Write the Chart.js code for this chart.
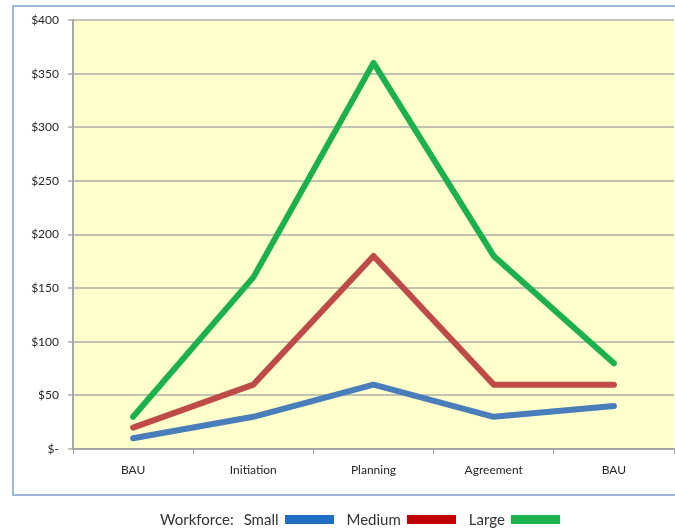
<!DOCTYPE html>
<html>
<head>
<meta charset="utf-8">
<script src="https://cdn.jsdelivr.net/npm/chart.js@4/dist/chart.umd.min.js"></script>
<style>
  html, body { margin: 0; padding: 0; background: #ffffff; }
  #wrap { position: relative; width: 675px; height: 529px; overflow: hidden; }
  #frame { position: absolute; left: 12px; top: 5px; width: 720px; height: 491px;
           border: 2px solid #9bb8dc; box-sizing: border-box; }
  #c { position: absolute; left: 0; top: 0; }
  #legend { position: absolute; left: 160px; top: 509px; height: 20px;
            display: flex; align-items: center;
            font-family: Lato, sans-serif; font-size: 15px; color: #333333;
            white-space: nowrap; }
  #legend .cap { margin-right: 10px; }
  #legend .sw { display: inline-block; width: 49px; height: 9px;
                margin: 0 13px 0 6px; }
</style>
</head>
<body>
<div id="wrap">
  <div id="frame"></div>
  <canvas id="c" width="675" height="529"></canvas>
  <div id="legend"></div>
</div>
<script>
// Project phases along the horizontal axis
const phases = ['BAU', 'Initiation', 'Planning', 'Agreement', 'BAU'];

// Cost per phase for each workforce size
const smallCost  = [10, 30, 60, 30, 40];
const mediumCost = [20, 60, 180, 60, 60];
const largeCost  = [30, 160, 360, 180, 80];

const seriesNames   = ['Small', 'Medium', 'Large'];
const seriesColors  = ['#4a7ebb', '#be4b48', '#1cb04e'];
const swatchColors  = ['#1f6fc0', '#c00000', '#1db34f'];

// Dollar tick labels from $0 to $400
const yTickValues = [0, 50, 100, 150, 200, 250, 300, 350, 400];
const yTickLabels = ['$-', '$50', '$100', '$150', '$200', '$250', '$300', '$350', '$400'];

const plotBackground = {
  id: 'plotBackground',
  beforeDraw(chart) {
    const { ctx, chartArea: a } = chart;
    ctx.save();
    ctx.fillStyle = '#ffffcc';
    ctx.fillRect(a.left, a.top, a.right - a.left, a.bottom - a.top);
    ctx.restore();
  }
};

const values = [smallCost, mediumCost, largeCost];
const datasets = values.map((v, i) => ({
  label: seriesNames[i],
  data: v,
  borderColor: seriesColors[i],
  backgroundColor: seriesColors[i],
  borderWidth: 6,
  pointRadius: 0,
  pointHoverRadius: 0,
  tension: 0,
  borderJoinStyle: 'round',
  borderCapStyle: 'round',
  clip: false
}));

new Chart(document.getElementById('c'), {
  type: 'line',
  data: { labels: phases, datasets },
  plugins: [plotBackground],
  options: {
    responsive: false,
    animation: false,
    layout: { padding: { top: 20, right: 1, left: 0, bottom: 0 } },
    plugins: { legend: { display: false }, tooltip: { enabled: false } },
    scales: {
      x: {
        offset: true,
        afterFit(s) { s.height = 80; },
        grid: { offset: true, drawOnChartArea: false, drawTicks: true, tickLength: 5,
                color: '#a6a6a6', lineWidth: 1 },
        border: { color: '#a6a6a6', width: 2 },
        ticks: { padding: 9, color: '#262626',
                 font: { family: 'Lato', size: 12 } }
      },
      y: {
        min: 0,
        max: 400,
        afterFit(s) { s.width = 73; },
        afterBuildTicks(s) { s.ticks = yTickValues.map(v => ({ value: v })); },
        grid: { color: '#c2c2b4', lineWidth: 2, tickLength: 5 },
        border: { color: '#a6a6a6', width: 2 },
        ticks: {
          padding: 9,
          color: '#262626',
          font: { family: 'Lato', size: 12 },
          callback: (v) => yTickLabels[yTickValues.indexOf(v)]
        }
      }
    }
  }
});

// Legend row: caption, then each series name followed by its colour swatch
const legend = document.getElementById('legend');
let html = '<span class="cap">Workforce:</span>';
seriesNames.forEach((n, i) => {
  html += '<span>' + n + '</span><span class="sw" style="background:' + swatchColors[i] + '"></span>';
});
legend.innerHTML = html;
</script>
</body>
</html>
